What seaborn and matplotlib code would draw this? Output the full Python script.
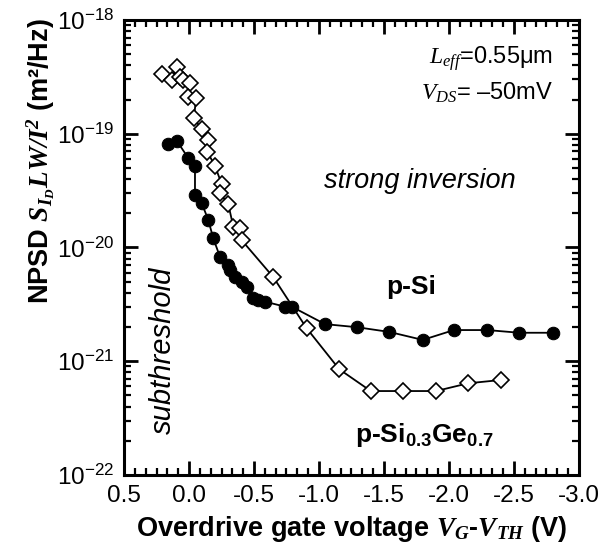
import math
import matplotlib
matplotlib.use("Agg")
import matplotlib.pyplot as plt
import matplotlib.ticker as mticker
import seaborn as sns

# p-Si (filled circles)
si_v = [0.159, 0.095, 0.005, -0.046, -0.046, -0.098, -0.148, -0.187, -0.238, -0.302,
        -0.315, -0.354, -0.405, -0.444, -0.495, -0.533, -0.585, -0.738, -0.790,
        -1.046, -1.295, -1.541, -1.798, -2.038, -2.295, -2.541, -2.802]
si_s = [8.2e-20, 8.7e-20, 6.1e-20, 5.2e-20, 2.9e-20, 2.45e-20, 1.75e-20, 1.2e-20, 8.3e-21, 7.0e-21,
        6.3e-21, 5.5e-21, 5.0e-21, 4.5e-21, 3.57e-21, 3.45e-21, 3.34e-21, 3.02e-21, 3.02e-21,
        2.12e-21, 1.99e-21, 1.81e-21, 1.54e-21, 1.88e-21, 1.88e-21, 1.78e-21, 1.78e-21]

# p-Si0.3Ge0.7 (open diamonds)
sige_v = [0.21, 0.133, 0.095, 0.069, 0.044, -0.008, 0.005, -0.054, -0.038, -0.098,
          -0.148, -0.141, -0.200, -0.252, -0.238, -0.302, -0.341, -0.392, -0.405,
          -0.648, -0.905, -1.156, -1.398, -1.648, -1.900, -2.148, -2.398]
sige_s = [3.33e-19, 2.97e-19, 3.88e-19, 3.18e-19, 2.97e-19, 2.81e-19, 2.12e-19, 2.05e-19, 1.37e-19, 1.09e-19,
          8.8e-20, 6.95e-20, 5.2e-20, 3.6e-20, 3.0e-20, 2.41e-20, 1.52e-20, 1.47e-20, 1.16e-20,
          5.5e-21, 1.95e-21, 8.5e-22, 5.47e-22, 5.47e-22, 5.47e-22, 6.4e-22, 6.84e-22]

sns.set_style("ticks")
plt.rcParams["font.family"] = ["Liberation Sans", "DejaVu Sans"]
plt.rcParams["mathtext.fontset"] = "custom"
plt.rcParams["mathtext.rm"] = "Liberation Sans"
plt.rcParams["mathtext.it"] = "Liberation Serif:italic"
plt.rcParams["mathtext.bf"] = "Liberation Sans:bold"
plt.rcParams["mathtext.bfit"] = "Liberation Serif:bold:italic"
plt.rcParams["axes.unicode_minus"] = False
for k in ["text.color", "axes.labelcolor", "xtick.color", "ytick.color", "axes.edgecolor"]:
    plt.rcParams[k] = "black"

fig = plt.figure(figsize=(6.13, 5.59), dpi=100)
ax = fig.add_axes([0.2023, 0.1503, 0.7422, 0.8139])

sns.lineplot(x=sige_v, y=sige_s, sort=False, estimator=None, ax=ax, color="black", lw=1.3,
             marker="D", markersize=8, markerfacecolor="white", markeredgecolor="black",
             markeredgewidth=1.2)
sns.lineplot(x=si_v, y=si_s, sort=False, estimator=None, ax=ax, color="black", lw=1.3,
             marker="o", markersize=9, markerfacecolor="black", markeredgecolor="black")

ax.set_yscale("log")
ax.set_ylim(1e-22, 1e-18)
ax.set_xlim(0.5, -3.0)
ax.xaxis.set_major_locator(mticker.MultipleLocator(0.5))
ax.xaxis.set_minor_locator(mticker.AutoMinorLocator(6))
ax.xaxis.set_major_formatter(mticker.FormatStrFormatter("%.1f"))
ax.yaxis.set_major_locator(mticker.FixedLocator([1e-22, 1e-21, 1e-20, 1e-19, 1e-18]))
ax.yaxis.set_minor_locator(mticker.LogLocator(base=10, subs=range(2, 10), numticks=20))
ax.yaxis.set_minor_formatter(mticker.NullFormatter())
ax.yaxis.set_major_formatter(mticker.FuncFormatter(
    lambda v, p: r"$\mathregular{10^{%d}}$" % round(math.log10(v))))

for sp in ax.spines.values():
    sp.set_linewidth(2.2)
ax.tick_params(which="both", direction="in", top=True, right=True)
ax.tick_params(which="major", length=10, width=2, labelsize=17.5, pad=7)
ax.tick_params(which="minor", length=5, width=1.6)

ax.set_xlabel(r"Overdrive gate voltage $\mathbfit{V_G}$-$\mathbfit{V_{TH}}$ (V)",
              fontsize=19.5, fontweight="bold", labelpad=5)
ax.set_ylabel(r"NPSD $\mathbfit{S_{I_D}LW/I^2}$ (m²/Hz)", fontsize=19.5, fontweight="bold")
ax.yaxis.set_label_coords(-0.145, 0.69)

ax.text(0.943, 0.915, r"$L_{eff}$=0.55μm", transform=ax.transAxes, ha="right", va="center", fontsize=17)
ax.text(0.943, 0.84, r"$V_{DS}$= –50mV", transform=ax.transAxes, ha="right", va="center", fontsize=17)
ax.text(0.65, 0.647, "strong inversion", transform=ax.transAxes, ha="center", va="center",
        fontsize=19.5, style="italic")
ax.text(0.085, 0.275, "subthreshold", transform=ax.transAxes, ha="center", va="center",
        fontsize=21, style="italic", rotation=90)
ax.text(0.632, 0.413, "p-Si", transform=ax.transAxes, ha="center", va="center",
        fontsize=19, fontweight="bold")
ax.text(0.66, 0.088, r"p-Si$\mathregular{_{0.3}}$Ge$\mathregular{_{0.7}}$", transform=ax.transAxes,
        ha="center", va="center", fontsize=19, fontweight="bold")

fig.savefig("out.png", dpi=100)
